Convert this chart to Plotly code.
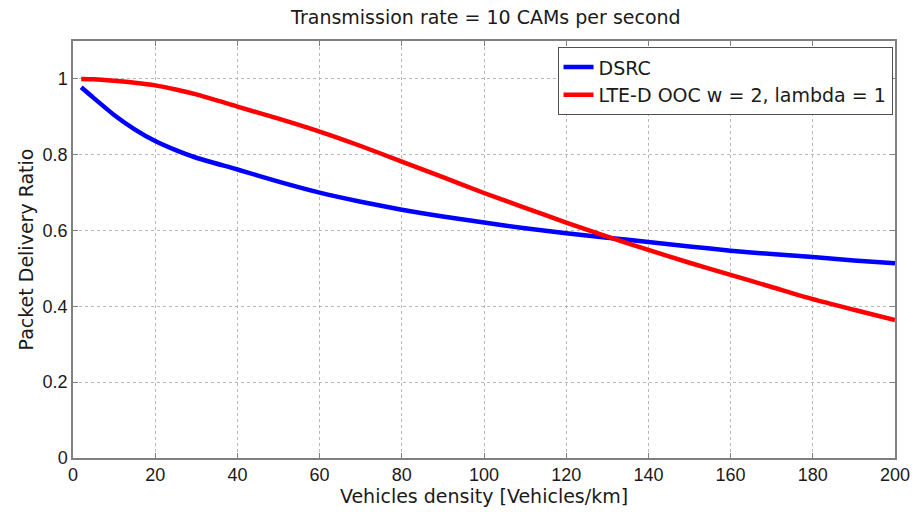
import plotly.graph_objects as go

density = [2, 5, 10, 15, 20, 25, 30, 40, 50, 60, 70, 80, 90, 100, 110, 120, 130, 140, 150, 160, 170, 180, 190, 200]
dsrc = [0.978, 0.950, 0.905, 0.867, 0.836, 0.812, 0.792, 0.761, 0.729, 0.700, 0.676, 0.655, 0.637, 0.621, 0.606, 0.593, 0.581, 0.570, 0.558, 0.547, 0.538, 0.530, 0.521, 0.514]
lte = [1.0, 0.999, 0.995, 0.99, 0.983, 0.972, 0.959, 0.927, 0.895, 0.861, 0.823, 0.782, 0.741, 0.699, 0.66, 0.621, 0.584, 0.549, 0.515, 0.483, 0.451, 0.419, 0.391, 0.364]

x_ticks = [0, 20, 40, 60, 80, 100, 120, 140, 160, 180, 200]
y_ticks = [0, 0.2, 0.4, 0.6, 0.8, 1]
y_tick_text = ["0", "0.2", "0.4", "0.6", "0.8", "1"]

font = "Liberation Sans, Arial, sans-serif"
label_font = "DejaVu Sans, sans-serif"
txt = "#1a1a1a"

fig = go.Figure()
fig.add_trace(go.Scatter(x=density, y=dsrc, mode="lines", name="DSRC",
                         line=dict(color="#0000ff", width=4.5, shape="spline", smoothing=0.6)))
fig.add_trace(go.Scatter(x=density, y=lte, mode="lines", name="LTE-D OOC w = 2, lambda = 1",
                         line=dict(color="#ff0000", width=4.5, shape="spline", smoothing=0.6)))

axis_common = dict(showline=True, linecolor="#808080", linewidth=1.5, mirror="allticks",
                   ticks="inside", ticklen=5, tickcolor="#808080",
                   showgrid=True, gridcolor="#b8b8b8", griddash="dot", gridwidth=1,
                   zeroline=False, tickfont=dict(size=18, color=txt, family=font))

fig.update_layout(
    width=922, height=512,
    margin=dict(l=73, r=19, t=41, b=54),
    paper_bgcolor="white", plot_bgcolor="white",
    font=dict(family=font, color=txt),
    title=dict(text="Transmission rate = 10 CAMs per second", x=0.527, xanchor="center",
               y=0.967, yanchor="middle", font=dict(size=19, color=txt, family=label_font)),
    xaxis=dict(range=[0, 200], tickvals=x_ticks,
               title=dict(text="Vehicles density [Vehicles/km]", standoff=1,
                          font=dict(size=19, family=label_font, color=txt)),
               **axis_common),
    yaxis=dict(range=[0, 1.1], tickvals=y_ticks, ticktext=y_tick_text,
               title=dict(text="Packet Delivery Ratio", standoff=4,
                          font=dict(size=19, family=label_font, color=txt)),
               **axis_common),
    legend=dict(x=0.997, y=0.985, xanchor="right", yanchor="top",
                bgcolor="white", bordercolor="#505050", borderwidth=1,
                font=dict(size=19, family=label_font, color=txt),
                tracegroupgap=0, itemwidth=30),
    showlegend=True,
)

fig.write_html("out.html", config={"displayModeBar": False},
               post_script="document.body.style.margin='0';")
